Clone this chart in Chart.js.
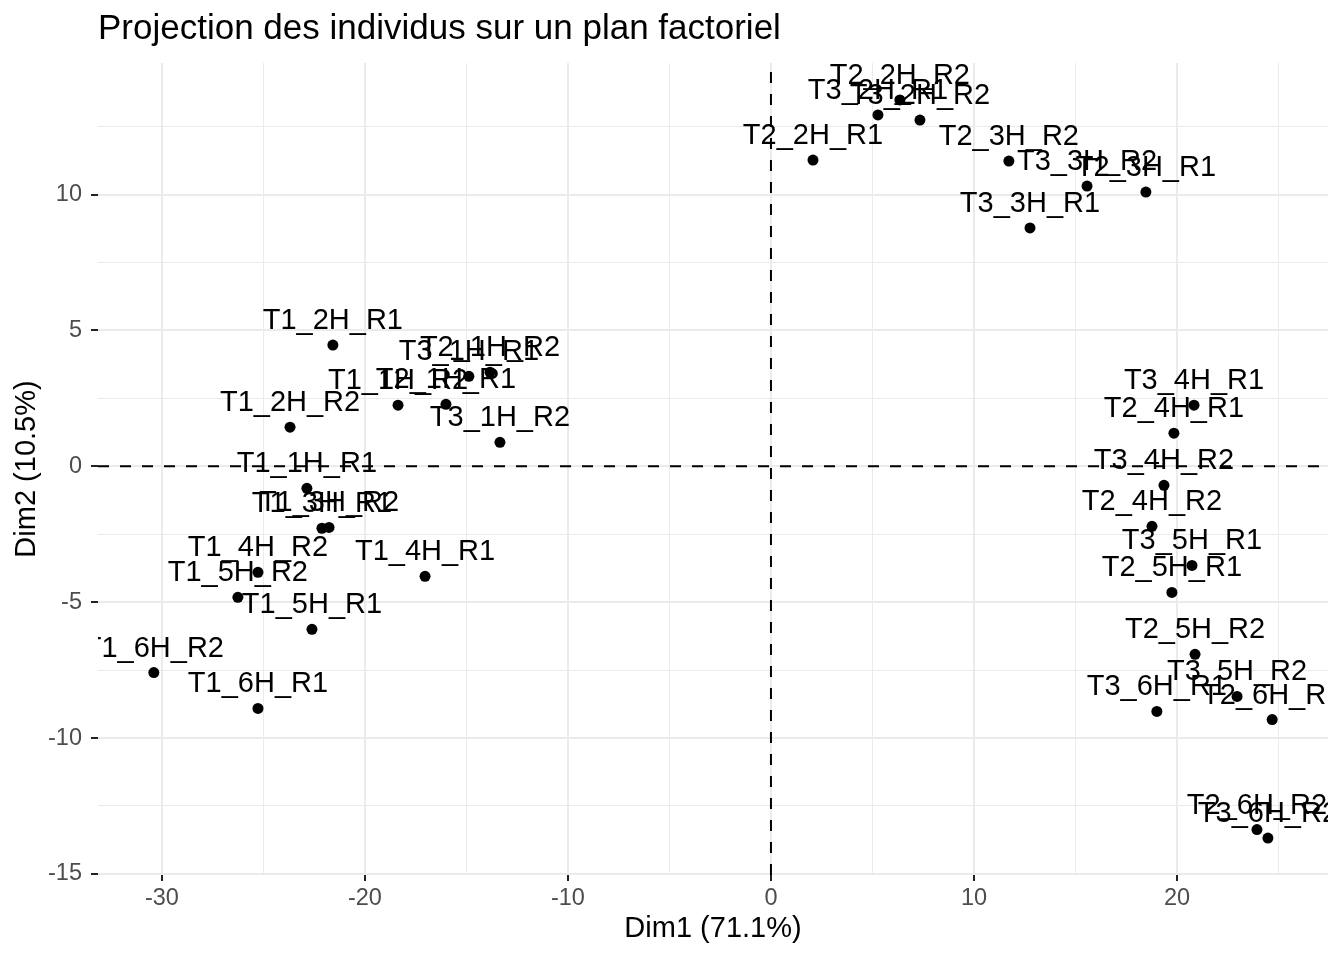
<!DOCTYPE html>
<html>
<head>
<meta charset="utf-8">
<script src="https://cdn.jsdelivr.net/npm/chart.js@4"></script>
<style>
  body { margin: 0; background: #fff; }
  #wrap { width: 1344px; height: 960px; }
</style>
</head>
<body>
<div id="wrap"><canvas id="pcaChart"></canvas></div>
<script>
const names = [
  'T1_1H_R1', 'T1_1H_R2', 'T1_2H_R1', 'T1_2H_R2', 'T1_3H_R1', 'T1_3H_R2',
  'T1_4H_R1', 'T1_4H_R2', 'T1_5H_R1', 'T1_5H_R2', 'T1_6H_R1', 'T1_6H_R2',
  'T2_1H_R1', 'T2_1H_R2', 'T2_2H_R1', 'T2_2H_R2', 'T2_3H_R1', 'T2_3H_R2',
  'T2_4H_R1', 'T2_4H_R2', 'T2_5H_R1', 'T2_5H_R2', 'T2_6H_R1', 'T2_6H_R2',
  'T3_1H_R1', 'T3_1H_R2', 'T3_2H_R1', 'T3_2H_R2', 'T3_3H_R1', 'T3_3H_R2',
  'T3_4H_R1', 'T3_4H_R2', 'T3_5H_R1', 'T3_5H_R2', 'T3_6H_R1', 'T3_6H_R2'
];
const dim1 = [
  -22.86, -18.37, -21.58, -23.69, -22.12, -21.77,
  -17.04, -25.27, -22.61, -26.26, -25.27, -30.40,
  -16.01, -13.84, 2.07, 6.35, 18.47, 11.72,
  19.85, 18.77, 19.75, 20.89, 24.69, 23.94,
  -14.88, -13.35, 5.27, 7.34, 12.76, 15.57,
  20.84, 19.36, 20.74, 22.96, 19.01, 24.48
];
const dim2 = [
  -0.81, 2.25, 4.46, 1.44, -2.28, -2.25,
  -4.05, -3.90, -6.00, -4.82, -8.91, -7.59,
  2.28, 3.46, 11.27, 13.48, 10.09, 11.23,
  1.22, -2.21, -4.64, -6.92, -9.32, -13.37,
  3.31, 0.88, 12.93, 12.74, 8.77, 10.31,
  2.25, -0.70, -3.65, -8.47, -9.02, -13.68
];
const xTicks = [-30, -20, -10, 0, 10, 20];
const xMinor = [-25, -15, -5, 5, 15, 25];
const yTicks = [-15, -10, -5, 0, 5, 10];
const yMinor = [-12.5, -7.5, -2.5, 2.5, 7.5, 12.5];

const FONT = '"Liberation Sans", Arial, Helvetica, sans-serif';
const points = dim1.map((x, i) => ({ x: x, y: dim2[i], label: names[i] }));

function isMajor(list, v) {
  return list.some(t => Math.abs(t - v) < 1e-9);
}

// dashed reference lines at 0 and text labels above each point
const extras = {
  id: 'extras',
  beforeDatasetsDraw(chart) {
    const { ctx, chartArea: a, scales: { x, y } } = chart;
    ctx.save();
    ctx.strokeStyle = '#000';
    ctx.lineWidth = 2;
    ctx.setLineDash([11, 11]);
    const px = x.getPixelForValue(0);
    const py = y.getPixelForValue(0);
    ctx.beginPath();
    ctx.moveTo(a.left, py);
    ctx.lineTo(a.right, py);
    ctx.moveTo(px, a.bottom);
    ctx.lineTo(px, a.top);
    ctx.stroke();
    ctx.restore();
  },
  afterDatasetsDraw(chart) {
    const { ctx, chartArea: a, scales: { x, y } } = chart;
    ctx.save();
    ctx.beginPath();
    ctx.rect(a.left, a.top, a.right - a.left, a.bottom - a.top);
    ctx.clip();
    ctx.fillStyle = '#000';
    ctx.font = '29px ' + FONT;
    ctx.textAlign = 'center';
    ctx.textBaseline = 'middle';
    points.forEach(p => {
      ctx.fillText(p.label, x.getPixelForValue(p.x), y.getPixelForValue(p.y) - 24);
    });
    ctx.restore();
  }
};

new Chart(document.getElementById('pcaChart'), {
  type: 'scatter',
  data: {
    datasets: [{
      data: points,
      backgroundColor: '#000',
      borderWidth: 0,
      pointRadius: 5.5,
      pointHoverRadius: 5.5
    }]
  },
  options: {
    responsive: true,
    maintainAspectRatio: false,
    animation: false,
    layout: { padding: { top: 0, right: 16, bottom: 0, left: 0 } },
    plugins: {
      legend: { display: false },
      tooltip: { enabled: false },
      title: {
        display: true,
        text: 'Projection des individus sur un plan factoriel',
        align: 'start',
        fullSize: false,
        color: '#000',
        font: { family: FONT, size: 35, weight: 'normal' },
        padding: { top: 8, bottom: 13 }
      }
    },
    scales: {
      x: {
        type: 'linear',
        min: -33.15,
        max: 27.44,
        afterBuildTicks: s => { s.ticks = xTicks.concat(xMinor).sort((a, b) => a - b).map(v => ({ value: v })); },
        afterFit: s => { s.height = 85; },
        border: { display: false },
        grid: {
          color: '#EBEBEB',
          lineWidth: c => isMajor(xTicks, c.tick.value) ? 2 : 1,
          drawTicks: true,
          tickLength: 6,
          tickWidth: 2,
          tickColor: c => isMajor(xTicks, c.tick.value) ? '#222' : 'rgba(0,0,0,0)'
        },
        ticks: {
          color: '#4D4D4D',
          padding: 3,
          maxRotation: 0,
          font: { family: FONT, size: 23.5 },
          callback: v => isMajor(xTicks, v) ? String(v) : ''
        },
        title: {
          display: true,
          text: 'Dim1 (71.1%)',
          color: '#000',
          font: { family: FONT, size: 29 },
          padding: { top: 14, bottom: 14 }
        }
      },
      y: {
        type: 'linear',
        min: -15.04,
        max: 14.84,
        afterBuildTicks: s => { s.ticks = yTicks.concat(yMinor).sort((a, b) => a - b).map(v => ({ value: v })); },
        afterFit: s => { s.width = 98; },
        border: { display: false },
        grid: {
          color: '#EBEBEB',
          lineWidth: c => isMajor(yTicks, c.tick.value) ? 2 : 1,
          drawTicks: true,
          tickLength: 7,
          tickWidth: 2,
          tickColor: c => isMajor(yTicks, c.tick.value) ? '#222' : 'rgba(0,0,0,0)'
        },
        ticks: {
          color: '#4D4D4D',
          padding: 9,
          font: { family: FONT, size: 23.5 },
          callback: v => isMajor(yTicks, v) ? String(v) : ''
        },
        title: {
          display: true,
          text: 'Dim2 (10.5%)',
          color: '#000',
          font: { family: FONT, size: 29 },
          padding: { top: 10, bottom: 10 }
        }
      }
    }
  },
  plugins: [extras]
});
</script>
</body>
</html>
